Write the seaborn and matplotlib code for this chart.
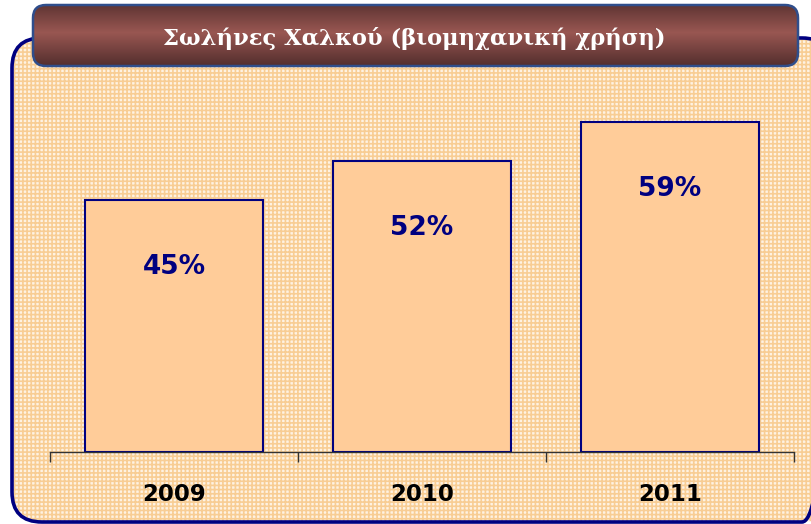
import matplotlib
matplotlib.use('agg')
import matplotlib.pyplot as plt
import numpy as np
import pandas as pd
import seaborn as sns
from matplotlib.patches import FancyBboxPatch

years = ["2009", "2010", "2011"]
shares = [45, 52, 59]
value_labels = ["45%", "52%", "59%"]
title = "Σωλήνες Χαλκού (βιομηχανική χρήση)"

df = pd.DataFrame({"year": years, "share": shares})

sns.set_theme(style="white")
plt.rcParams["font.family"] = ["DejaVu Sans"]
plt.rcParams["hatch.linewidth"] = 1.2

W, H = 812, 524
fig = plt.figure(figsize=(W / 100, H / 100), dpi=100)
fig.patch.set_facecolor("white")

# background layer in pixel coordinates
bg = fig.add_axes([0, 0, 1, 1])
bg.set_xlim(0, W)
bg.set_ylim(H, 0)
bg.axis("off")

# checked frame
frame_fill = FancyBboxPatch((12, 38), 820, 484, boxstyle="round,pad=0,rounding_size=30",
                            facecolor="#FEF2E2", edgecolor="#F8CD94", lw=0, hatch="++++")
bg.add_patch(frame_fill)
frame_edge = FancyBboxPatch((12, 38), 820, 484, boxstyle="round,pad=0,rounding_size=30",
                            facecolor="none", edgecolor="#000080", lw=2.6)
bg.add_patch(frame_edge)

# title banner with vertical gradient
banner = FancyBboxPatch((33, 5), 765, 61, boxstyle="round,pad=0,rounding_size=13",
                        facecolor="none", edgecolor="#2F4E8C", lw=1.8, zorder=3)
bg.add_patch(banner)
t = np.linspace(0, 1, 100)
shade = 1 - np.abs(t - 0.45) * 1.6
dark = np.array([0.29, 0.16, 0.16])
light = np.array([0.60, 0.34, 0.32])
grad = dark + np.clip(shade, 0, 1)[:, None] * (light - dark)
img = bg.imshow(grad[:, None, :], extent=(33, 798, 66, 5), aspect="auto", zorder=2)
img.set_clip_path(banner)
bg.set_xlim(0, W)
bg.set_ylim(H, 0)
bg.text(414, 38, title, color="white", fontsize=16.3, fontweight="bold",
        family=["DejaVu Serif"], ha="center", va="center", zorder=4)

# bar chart
ax = fig.add_axes([50 / W, 72 / H, 744 / W, 364 / H])
ax.patch.set_alpha(0)
sns.barplot(data=df, x="year", y="share", ax=ax, width=0.715,
            color="#FFCC99", edgecolor="#000080", linewidth=1.5, saturation=1)
ax.set_xlim(-0.5, 2.5)
ax.set_ylim(0, 65)
ax.set_xlabel("")
ax.set_ylabel("")
ax.set_yticks([])
for s in ["top", "right", "left"]:
    ax.spines[s].set_visible(False)
ax.spines["bottom"].set_color("#333333")
ax.spines["bottom"].set_linewidth(1)
ax.set_xticks([-0.5, 0.5, 1.5, 2.5], minor=True)
ax.tick_params(axis="x", which="minor", bottom=True, length=7, width=1, color="#333333")
ax.tick_params(axis="x", which="major", length=0, pad=22)
for lab in ax.get_xticklabels():
    lab.set_fontsize(16.5)
    lab.set_fontweight("heavy")
    lab.set_color("black")

for i, v in enumerate(shares):
    ax.text(i, v - 12, value_labels[i], ha="center", va="center",
            fontsize=19, fontweight="bold", color="#000080")

fig.savefig("out.png", dpi=100)
